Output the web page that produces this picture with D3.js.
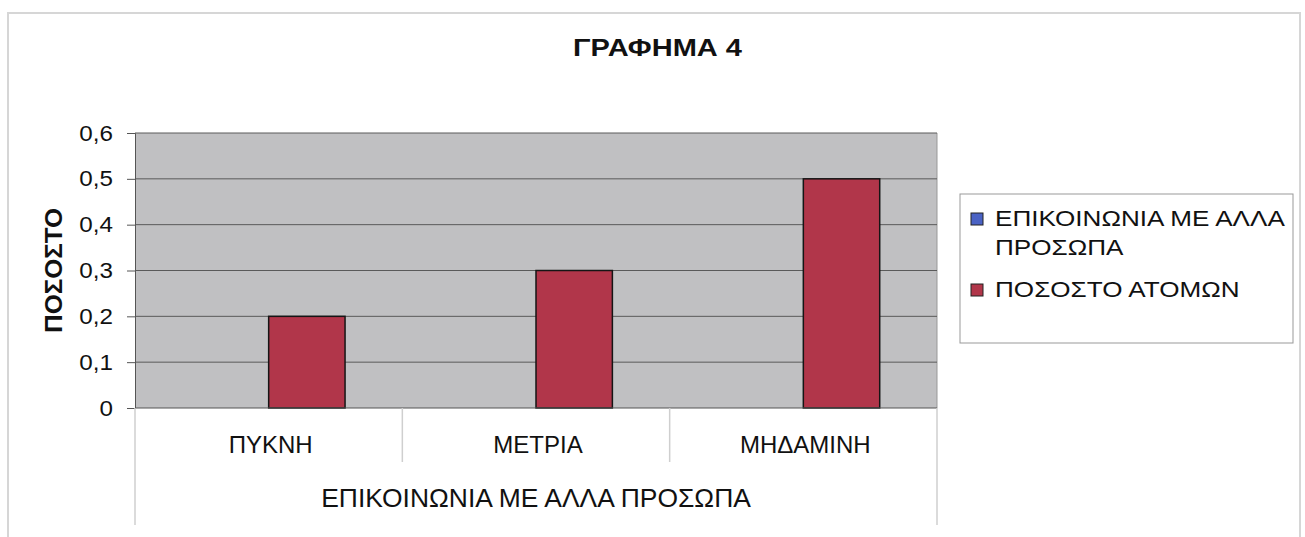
<!DOCTYPE html>
<html><head><meta charset="utf-8">
<script src="https://cdn.jsdelivr.net/npm/d3@7"></script>
<style>body{margin:0;background:#fff;} text{font-family:"Liberation Sans",Arial,sans-serif;fill:#111;}</style>
</head><body>
<svg id="c" width="1305" height="537"></svg>
<script>
const categories = ["ΠΥΚΝΗ", "ΜΕΤΡΙΑ", "ΜΗΔΑΜΙΝΗ"];
const seriesNames = ["ΕΠΙΚΟΙΝΩΝΙΑ ΜΕ ΑΛΛΑ ΠΡΟΣΩΠΑ", "ΠΟΣΟΣΤΟ ΑΤΟΜΩΝ"];
const seriesComm = [null, null, null];
const seriesPct = [0.2, 0.3, 0.5];
const yTicks = [0, 0.1, 0.2, 0.3, 0.4, 0.5, 0.6];
const title = "ΓΡΑΦΗΜΑ 4";
const yTitle = "ΠΟΣΟΣΤΟ";
const xTitle = "ΕΠΙΚΟΙΝΩΝΙΑ ΜΕ ΑΛΛΑ ΠΡΟΣΩΠΑ";
const colors = ["#4a62c4", "#b1364a"];

const svg = d3.select("#c");
const L = 135, R = 937, T = 133, B = 408;

// helper: place text with a horizontal stretch so it spans a target width
function stretched(parent, txt, x, yb, size, targetW, anchor, weight, rotate) {
  const t = parent.append("text").attr("font-size", size).attr("font-weight", weight || "normal")
    .attr("text-anchor", anchor || "start").text(txt);
  const w = t.node().getComputedTextLength();
  const s = targetW ? targetW / w : 1;
  t.attr("transform", `translate(${x},${yb})` + (rotate ? ` rotate(${rotate})` : "") + ` scale(${s},1)`);
  return t;
}

// outer frame
svg.append("rect").attr("x",8).attr("y",13).attr("width",1292).attr("height",540)
  .attr("fill","none").attr("stroke","#d6d6d6").attr("stroke-width",2);

const x0 = d3.scaleBand().domain(categories).range([L, R]);
const y = d3.scaleLinear().domain([0, 0.6]).range([B, T]);

// plot bg
svg.append("rect").attr("x",L).attr("y",T).attr("width",R-L).attr("height",B-T).attr("fill","#c0c0c2");
svg.append("line").attr("x1",R).attr("x2",R).attr("y1",T).attr("y2",B).attr("stroke","#999");

// gridlines
svg.append("g").selectAll("line").data(yTicks.slice(1)).join("line")
  .attr("x1",L).attr("x2",R).attr("y1",d=>y(d)).attr("y2",d=>y(d))
  .attr("stroke","#5a5a5a").attr("stroke-width",1);

// bars (Excel clustered: 2 series, gap width 150%)
const groupW = x0.bandwidth();
const barW = groupW/3.5;
[seriesComm, seriesPct].forEach((s,si)=>{
  svg.append("g").selectAll("rect").data(categories.map((c,i)=>({c,v:s[i]})).filter(d=>d.v!=null)).join("rect")
    .attr("x",d=>x0(d.c)+0.75*barW+si*barW).attr("width",barW)
    .attr("y",d=>y(d.v)).attr("height",d=>y(0)-y(d.v))
    .attr("fill",colors[si]).attr("stroke","#151515").attr("stroke-width",1.5);
});

// y axis
const fmt = d => d === 0 ? "0" : d3.format(".1f")(d).replace(".", ",");
const yAxis = d3.axisLeft(y).tickValues(yTicks).tickSize(8).tickFormat("");
const yg = svg.append("g").attr("transform",`translate(${L},0)`).call(yAxis);
yg.select(".domain").attr("stroke","#555");
yg.selectAll(".tick line").attr("stroke","#555");
yTicks.forEach(v => {
  const t = svg.append("text").attr("font-size",22).attr("text-anchor","end").text(fmt(v));
  t.attr("transform",`translate(113,${y(v)+7.5}) scale(1.1,1)`);
});

// x axis line
svg.append("line").attr("x1",L).attr("x2",R).attr("y1",B).attr("y2",B).attr("stroke","#555");
// category separators
const seps = categories.map(c=>x0(c)).concat([R]);
svg.append("g").selectAll("line").data(seps).join("line")
  .attr("x1",d=>d).attr("x2",d=>d).attr("y1",B)
  .attr("y2",(d,i)=> (i===0||i===seps.length-1) ? 525 : 462)
  .attr("stroke","#cfcfcf").attr("stroke-width",1.5);

// category labels
categories.forEach(c => {
  const t = svg.append("text").attr("font-size",24).attr("text-anchor","middle").text(c);
  t.attr("transform",`translate(${x0(c)+groupW/2+2},453)`);
});

// x title
stretched(svg, xTitle, (L+R)/2, 507, 25, 430, "middle");

// y title
stretched(svg, yTitle, 62, (T+B)/2, 24, 125, "middle", "bold", -90);

// title
stretched(svg, title, 657.5, 56, 24, 169, "middle", "bold");

// legend
svg.append("rect").attr("x",960).attr("y",194).attr("width",333).attr("height",149).attr("fill","#fff").attr("stroke","#999").attr("stroke-width",1);
const words = seriesNames[0].split(" ");
const legendLines = [[words.slice(0,3).join(" "), words.slice(3).join(" ")],[seriesNames[1]]];
const firstBase = [226, 297];
let scaleL = null;
legendLines.forEach((lines,i)=>{
  svg.append("rect").attr("x",971).attr("y",firstBase[i]-13).attr("width",12).attr("height",12)
    .attr("fill",colors[i]).attr("stroke","#222").attr("stroke-width",1);
  lines.forEach((tx,j)=>{
    const t = svg.append("text").attr("font-size",22).text(tx);
    if (scaleL === null) scaleL = 290 / t.node().getComputedTextLength();
    t.attr("transform",`translate(995,${firstBase[i]+j*29}) scale(${scaleL},1)`);
  });
});
</script>
</body></html>
